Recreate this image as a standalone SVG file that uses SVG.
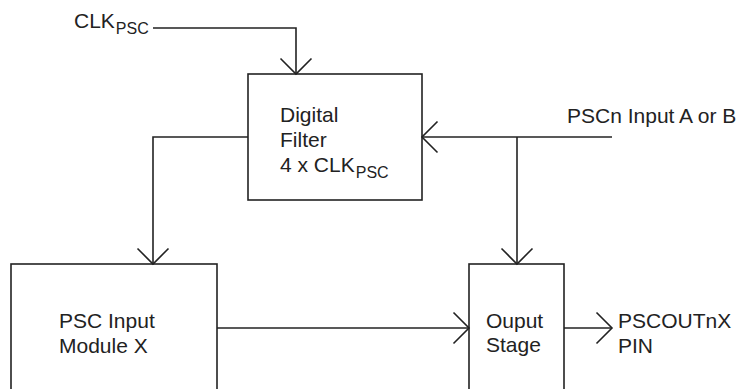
<svg xmlns="http://www.w3.org/2000/svg" width="744" height="389" viewBox="0 0 744 389">
<style>
.box{fill:none;stroke:#222;stroke-width:1.6}
.ln{fill:none;stroke:#222;stroke-width:1.6}
text{font-family:"Liberation Sans",Arial,sans-serif;font-size:21px;fill:#222}
.sub{font-size:16px}
</style>
<defs>
<marker id="ah" markerUnits="userSpaceOnUse" markerWidth="20" markerHeight="34" viewBox="-17 -17 20 34" refX="0" refY="0" orient="auto">
<path d="M-15.5,-15.5 L0,0 L-15.5,15.5" fill="none" stroke="#222" stroke-width="1.6"/>
</marker>
</defs>
<g id="digital-filter">
<rect class="box" x="248" y="74" width="174" height="126"/>
<text x="280" y="122">Digital</text>
<text x="280" y="147">Filter</text>
<text x="280" y="172">4 x CLK<tspan class="sub" dx="1" dy="6">PSC</tspan></text>
</g>
<g id="psc-input-module">
<rect class="box" x="11" y="264" width="206" height="140"/>
<text x="59" y="328">PSC Input</text>
<text x="59" y="353">Module X</text>
</g>
<g id="output-stage">
<rect class="box" x="469" y="264" width="95" height="140"/>
<text x="486" y="328">Ouput</text>
<text x="486" y="352">Stage</text>
</g>
<g id="labels">
<text x="74" y="28">CLK<tspan class="sub" dx="1" dy="6">PSC</tspan></text>
<text x="567" y="123">PSCn Input A or B</text>
<text x="618" y="328">PSCOUTnX</text>
<text x="618" y="353">PIN</text>
</g>
<g id="connectors">
<path class="ln" d="M153,28 H296 V74" marker-end="url(#ah)"/>
<path class="ln" d="M612,137 H422" marker-end="url(#ah)"/>
<path class="ln" d="M517,137 V264" marker-end="url(#ah)"/>
<path class="ln" d="M248,137 H153 V264" marker-end="url(#ah)"/>
<path class="ln" d="M217,328 H469" marker-end="url(#ah)"/>
<path class="ln" d="M564,328 H612" marker-end="url(#ah)"/>
</g>
</svg>
